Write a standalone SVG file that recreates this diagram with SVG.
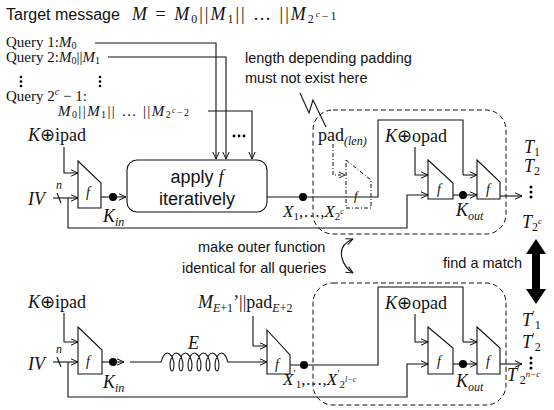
<svg xmlns="http://www.w3.org/2000/svg" width="554" height="410" viewBox="0 0 554 410">
<style>
.ln{fill:none;stroke:#111;stroke-width:1.1}
.ar{marker-end:url(#ah)}
.blk{fill:#fff;stroke:#111;stroke-width:1.1}
.dd{fill:none;stroke:#111;stroke-width:1;stroke-dasharray:4 2 1 2}
.dash{fill:none;stroke:#111;stroke-width:1;stroke-dasharray:5 3}
.sf{font-family:"Liberation Serif","Times New Roman",serif;fill:#111}
.ss{font-family:"Liberation Sans",Arial,sans-serif;fill:#111}
.it{font-style:italic}
.dot{fill:#000}
</style>
<defs>
<marker id="ah" markerUnits="userSpaceOnUse" viewBox="0 0 8 8" refX="7.5" refY="4" markerWidth="8" markerHeight="8" orient="auto-start-reverse">
<path d="M0.5,0.8 L7.5,4 L0.5,7.2" fill="none" stroke="#111" stroke-width="1"/>
</marker>
</defs>

<g id="title">
<text class="ss" x="6" y="20" font-size="16">Target message</text>
<text class="sf" x="132" y="20" font-size="18" letter-spacing="2"><tspan class="it">M</tspan> = <tspan class="it">M</tspan><tspan font-size="12" dy="3">0</tspan><tspan dy="-3">||</tspan><tspan class="it">M</tspan><tspan font-size="12" dy="3">1</tspan><tspan dy="-3">|| … ||</tspan><tspan class="it">M</tspan><tspan font-size="12" dy="3">2</tspan><tspan font-size="9" class="it" dy="-6">c</tspan><tspan font-size="12" dy="3">−1</tspan></text>
</g>

<g id="queries">
<text class="sf" x="6" y="47" font-size="15">Query 1:<tspan class="it">M</tspan><tspan font-size="10" dy="2">0</tspan></text>
<text class="sf" x="6" y="62" font-size="15">Query 2:<tspan class="it">M</tspan><tspan font-size="10" dy="2">0</tspan><tspan dy="-2">||</tspan><tspan class="it">M</tspan><tspan font-size="10" dy="2">1</tspan></text>
<circle class="dot" cx="21" cy="77" r="1.3"/><circle class="dot" cx="21" cy="81.5" r="1.3"/><circle class="dot" cx="21" cy="86" r="1.3"/>
<circle class="dot" cx="100" cy="77" r="1.3"/><circle class="dot" cx="100" cy="81.5" r="1.3"/><circle class="dot" cx="100" cy="86" r="1.3"/>
<text class="sf" x="6" y="101" font-size="15">Query 2<tspan font-size="10" class="it" dy="-6">c</tspan><tspan dy="6"> − 1:</tspan></text>
<text class="sf" x="58" y="116" font-size="15" letter-spacing="1.4"><tspan class="it">M</tspan><tspan font-size="10" dy="2">0</tspan><tspan dy="-2">||</tspan><tspan class="it">M</tspan><tspan font-size="10" dy="2">1</tspan><tspan dy="-2">|| … ||</tspan><tspan class="it">M</tspan><tspan font-size="10" dy="2">2</tspan><tspan font-size="8" class="it" dy="-5">c</tspan><tspan font-size="10" dy="3">−2</tspan></text>
</g>

<g id="connectors">
<path class="ln ar" d="M95,43 H216 V159"/>
<path class="ln ar" d="M108,57 H226 V159"/>
<path class="ln ar" d="M208,111 H252 V159"/>
<path class="ln ar" d="M64,147 V173 H78"/>
<path class="ln ar" d="M53,198 H78"/>
<path class="ln" d="M57,193 L61,203"/>
<path class="ln ar" d="M68,198 V228 H407 V195 H428"/>
<path class="ln" d="M101,197 H113"/>
<path class="ln ar" d="M113,197 H126"/>
<path class="ln" d="M267,197 H378 V120 H463 V175"/>
<path class="ln ar" d="M463,175 H477"/>
<path class="ln ar" d="M415,147 V175 H428"/>
<path class="ln" d="M453,195 H463"/>
<path class="ln ar" d="M463,195 H477"/>
<path class="ln ar" d="M500,196 H522"/>
<path class="dd" d="M333,144 V175 H341"/>
<path d="M339,172 L345,175 L339,178" fill="none" stroke="#111" stroke-width="0.9"/>
<path class="ln" d="M300,93 L309,113 L313,100 L326,127" stroke-width="0.9"/>
<path class="ln ar" d="M64,313 V342 H78"/>
<path class="ln ar" d="M53,362 H78"/>
<path class="ln" d="M57,357 L61,367"/>
<path class="ln ar" d="M68,362 V397 H407 V364 H428"/>
<path class="ln" d="M102,362 H113"/>
<path class="ln ar" d="M113,362 H124"/>
<path class="ln" d="M130,362 H161.25 c0.75,-4.71 3.406,-9 6.25,-9 c2.844,0 5.5,4.71 6.25,9 c0.75,4.71 -0.405,9 -1.75,9 c-1.345,0 -2.5,-4.29 -1.75,-9 c0.75,-4.71 3.406,-9 6.25,-9 c2.844,0 5.5,4.71 6.25,9 c0.75,4.71 -0.405,9 -1.75,9 c-1.345,0 -2.5,-4.29 -1.75,-9 c0.75,-4.71 3.406,-9 6.25,-9 c2.844,0 5.5,4.71 6.25,9 c0.75,4.71 -0.405,9 -1.75,9 c-1.345,0 -2.5,-4.29 -1.75,-9 c0.75,-4.71 3.406,-9 6.25,-9 c2.844,0 5.5,4.71 6.25,9 c0.75,4.71 -0.405,9 -1.75,9 c-1.345,0 -2.5,-4.29 -1.75,-9 c0.75,-4.71 3.406,-9 6.25,-9 c2.844,0 5.5,4.71 6.25,9 c0.75,4.71 -0.405,9 -1.75,9 c-1.345,0 -2.5,-4.29 -1.75,-9 c0.75,-4.71 3.406,-9 6.25,-9 c2.844,0 5.5,4.71 6.25,9 c0.75,4.71 -0.405,9 -1.75,9 c-1.345,0 -2.5,-4.29 -1.75,-9 c0.75,-4.71 3.406,-9 6.25,-9 c2.844,0 5.5,4.71 6.25,9 L231,362"/>
<path class="ln ar" d="M231,362 H267"/>
<path class="ln ar" d="M253,316 V346 H267"/>
<path class="ln" d="M290,365 H378 V287 H463 V342"/>
<path class="ln ar" d="M463,342 H477"/>
<path class="ln ar" d="M415,314 V342 H428"/>
<path class="ln" d="M453,364 H463"/>
<path class="ln ar" d="M463,364 H477"/>
<path class="ln ar" d="M500,364 H522"/>
<path class="ln" d="M353,239 C343,243 340,250 342,258 C344,266 348,270 353,273" stroke-width="0.9" marker-start="url(#ah)" marker-end="url(#ah)"/>
<polygon points="536,239 546,254 540,254 540,289 546,289 536,304 526,289 532,289 532,254 526,254" fill="#000"/>
</g>

<g id="top-ipad-f">
<path class="blk" d="M78,161 L101,183 V208 H78 Z"/>
<text class="sf it" x="86" y="197" font-size="14">f</text>
<text class="sf" x="28" y="141" font-size="18"><tspan class="it">K</tspan>⊕ipad</text>
<text class="sf it" x="28" y="205" font-size="18">IV</text>
<text class="sf it" x="56" y="189" font-size="12">n</text>
<circle class="dot" cx="113" cy="197" r="4"/>
<text class="sf it" x="103" y="222" font-size="18">K<tspan font-size="12" dy="4">in</tspan></text>
</g>

<g id="apply">
<rect class="blk" x="127" y="160" width="140" height="52" rx="10"/>
<text class="ss" x="197" y="183" font-size="18" text-anchor="middle">apply <tspan class="sf it">f</tspan></text>
<text class="ss" x="197" y="205" font-size="18" text-anchor="middle">iteratively</text>
<circle class="dot" cx="234" cy="136" r="1.4"/><circle class="dot" cx="239" cy="136" r="1.4"/><circle class="dot" cx="244" cy="136" r="1.4"/>
</g>

<g id="top-pad">
<circle class="dot" cx="303" cy="197" r="4"/>
<text class="sf it" x="283" y="217" font-size="17">X<tspan font-size="11" dy="3" font-style="normal">1</tspan><tspan dy="-3" font-style="normal">,…,</tspan>X<tspan font-size="11" dy="3" font-style="normal">2</tspan><tspan font-size="8" dy="-6">c</tspan></text>
<path class="dd" d="M346,160 L371,180 V208 H346 Z"/>
<text class="sf it" x="354" y="200" font-size="13">f</text>
<text class="sf" x="318" y="141" font-size="18">pad<tspan font-size="12" class="it" dy="4">(len)</tspan></text>
<text class="ss" x="245" y="63" font-size="14.5">length depending padding</text>
<text class="ss" x="245" y="83" font-size="14.5">must not exist here</text>
</g>

<g id="top-outer">
<rect class="dash" x="313" y="110" width="193" height="124" rx="20"/>
<text class="sf" x="385" y="142" font-size="18"><tspan class="it">K</tspan>⊕opad</text>
<path class="blk" d="M428,160 L453,183 V199 H428 Z"/>
<text class="sf it" x="437" y="194" font-size="14">f</text>
<path class="blk" d="M477,160 L500,182 V199 H477 Z"/>
<text class="sf it" x="486" y="194" font-size="14">f</text>
<circle class="dot" cx="463" cy="195" r="4"/>
<text class="sf it" x="456" y="216" font-size="18">K<tspan font-size="12" dy="4">out</tspan></text>
</g>

<g id="top-tags">
<text class="sf it" x="524" y="153" font-size="18">T<tspan font-size="12" dy="3" font-style="normal">1</tspan></text>
<text class="sf it" x="524" y="172" font-size="18">T<tspan font-size="12" dy="3" font-style="normal">2</tspan></text>
<circle class="dot" cx="531" cy="187" r="1.5"/><circle class="dot" cx="531" cy="192" r="1.5"/><circle class="dot" cx="531" cy="197" r="1.5"/>
<text class="sf it" x="522" y="228" font-size="18">T<tspan font-size="12" dy="3" font-style="normal">2</tspan><tspan font-size="9" dy="-7">c</tspan></text>
</g>

<g id="notes">
<text class="ss" x="198" y="252" font-size="14.5">make outer function</text>
<text class="ss" x="182" y="273" font-size="14.5">identical for all queries</text>
<text class="ss" x="443" y="268" font-size="14.5">find a match</text>
</g>

<g id="bottom-ipad-f">
<path class="blk" d="M78,327 L102,350 V374 H78 Z"/>
<text class="sf it" x="86" y="366" font-size="14">f</text>
<text class="sf" x="28" y="308" font-size="18"><tspan class="it">K</tspan>⊕ipad</text>
<text class="sf it" x="28" y="370" font-size="18">IV</text>
<text class="sf it" x="56" y="353" font-size="12">n</text>
<circle class="dot" cx="113" cy="362" r="4"/>
<text class="sf it" x="103" y="388" font-size="18">K<tspan font-size="12" dy="4">in</tspan></text>
<text class="sf it" x="188" y="349" font-size="18">E</text>
</g>

<g id="bottom-msg-f">
<text class="sf" x="198" y="308" font-size="18"><tspan class="it">M</tspan><tspan font-size="12" class="it" dy="4">E</tspan><tspan font-size="12">+1</tspan><tspan dy="-4">’||pad</tspan><tspan font-size="12" class="it" dy="4">E</tspan><tspan font-size="12">+2</tspan></text>
<path class="blk" d="M267,330 L290,355 V374 H267 Z"/>
<text class="sf it" x="275" y="369" font-size="14">f</text>
<circle class="dot" cx="304" cy="365" r="4"/>
<text class="sf it" x="283" y="385" font-size="17">X<tspan font-size="11" dy="-8" font-style="normal">′</tspan><tspan font-size="11" dy="11" font-style="normal">1</tspan><tspan dy="-3" font-style="normal">,…,</tspan>X<tspan font-size="11" dy="-8" font-style="normal">′</tspan><tspan font-size="11" dy="11" font-style="normal">2</tspan><tspan font-size="8" dy="-6">l−c</tspan></text>
</g>

<g id="bottom-outer">
<rect class="dash" x="313" y="283" width="193" height="122" rx="20"/>
<text class="sf" x="385" y="309" font-size="18"><tspan class="it">K</tspan>⊕opad</text>
<path class="blk" d="M428,327 L453,348 V374 H428 Z"/>
<text class="sf it" x="437" y="366" font-size="14">f</text>
<path class="blk" d="M477,327 L500,348 V374 H477 Z"/>
<text class="sf it" x="486" y="366" font-size="14">f</text>
<circle class="dot" cx="463" cy="364" r="4"/>
<text class="sf it" x="456" y="387" font-size="18">K<tspan font-size="12" dy="4">out</tspan></text>
</g>

<g id="bottom-tags">
<text class="sf it" x="522" y="326" font-size="18">T<tspan font-size="12" dy="-7" font-style="normal">′</tspan><tspan font-size="12" dy="10" font-style="normal">1</tspan></text>
<text class="sf it" x="522" y="348" font-size="18">T<tspan font-size="12" dy="-7" font-style="normal">′</tspan><tspan font-size="12" dy="10" font-style="normal">2</tspan></text>
<circle class="dot" cx="531" cy="358" r="1.5"/><circle class="dot" cx="531" cy="363" r="1.5"/><circle class="dot" cx="531" cy="368" r="1.5"/>
<text class="sf it" x="507" y="381" font-size="18">T<tspan font-size="12" dy="-7" font-style="normal">′</tspan><tspan font-size="12" dy="10" font-style="normal">2</tspan><tspan font-size="9" dy="-7">n−c</tspan></text>
</g>
</svg>
